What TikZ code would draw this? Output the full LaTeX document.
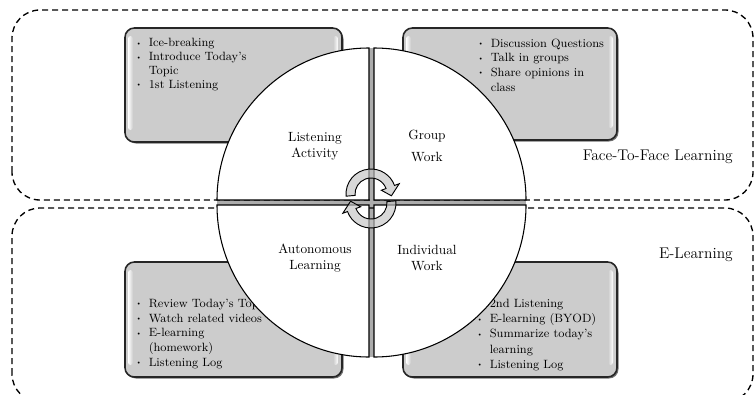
\documentclass[tikz,border=0pt]{standalone}
\usepackage{amsmath,amssymb}
\usepackage{xcolor}
\usepackage{tikz}
\definecolor{boxgray}{RGB}{204,204,204}
\definecolor{arrgray}{RGB}{196,196,196}
\newcommand{\bl}{\raisebox{0.3ex}{\tiny\textbullet}}

\begin{document}
\begin{tikzpicture}[x=0.75pt,y=0.75pt,
  lbl/.style={inner sep=0pt, anchor=east, font=\fontsize{11.6}{13}\selectfont},
  qtx/.style={inner sep=0pt, align=center, font=\fontsize{10}{12}\selectfont},
  btx/.style={inner sep=0pt, anchor=north west}]
\tikzstyle{zone}=[draw, line width=1pt, dash pattern=on 4.5pt off 3pt, rounded corners=21pt]
\tikzstyle{box}=[draw=black!85, line width=1.2pt, fill=boxgray, rounded corners=7pt]
\tikzstyle{qd}=[draw, line width=0.8pt, fill=white]
\tikzstyle{arr}=[draw, line width=0.7pt, fill=arrgray, fill opacity=0.65]
\useasboundingbox (0,0) rectangle (755,394);
% gaps between the quadrants
\fill[gray!65] (369,37) rectangle (374,346);
\fill[gray!65] (217,189) rectangle (526,194);
% dashed zones
\draw[zone] (12,194) rectangle (753,384);
\draw[zone] (12,-8) rectangle (753,186);
% gray boxes with glossy edges
\foreach \xa/\xb/\ya/\yb in {125/342/252/366,403/617/254/366,125/342/17/132,403/617/17/132}{
  \fill[black!55, rounded corners=7pt] (\xa+1.5,\ya-1.5) rectangle (\xb+1.5,\yb-1.5);
  \draw[box] (\xa,\ya) rectangle (\xb,\yb);
  \shade[left color=white, right color=boxgray, rounded corners=2pt] (\xa+3,\ya+12) rectangle (\xa+8,\yb-8);
  \shade[left color=boxgray, right color=white, rounded corners=2pt] (\xb-9,\ya+12) rectangle (\xb-4,\yb-8);
}
\node[btx, font=\fontsize{9}{10.3}\selectfont] (tl) at (135,357) {\begin{tabular}{@{}l@{\hspace{5pt}}l@{}}
\bl & Ice-breaking\\ \bl & Introduce Today's\\ & Topic\\ \bl & 1st Listening\end{tabular}};
\node[btx, font=\fontsize{9}{10.9}\selectfont] (tr) at (477,357) {\begin{tabular}{@{}l@{\hspace{5pt}}l@{}}
\bl & Discussion Questions\\ \bl & Talk in groups\\ \bl & Share opinions in\\ & class\end{tabular}};
\node[btx, font=\fontsize{9}{11}\selectfont] (bl) at (135,97) {\begin{tabular}{@{}l@{\hspace{5pt}}l@{}}
\bl & Review Today's Topic\\ \bl & Watch related videos\\ \bl & E-learning\\ & (homework)\\ \bl & Listening Log\end{tabular}};
\node[btx, font=\fontsize{9}{11.3}\selectfont] (br) at (476,97) {\begin{tabular}{@{}l@{\hspace{5pt}}l@{}}
\bl & 2nd Listening\\ \bl & E-learning (BYOD)\\ \bl & Summarize today's\\ & learning\\ \bl & Listening Log\end{tabular}};
% the four quadrants
\draw[qd] (369,194) -- (217,194) arc[start angle=180, end angle=90, radius=152] -- cycle;
\draw[qd] (374,194) -- (374,346) arc[start angle=90, end angle=0, radius=152] -- cycle;
\draw[qd] (369,189) -- (217,189) arc[start angle=180, end angle=270, radius=152] -- cycle;
\draw[qd] (374,189) -- (374,37) arc[start angle=270, end angle=360, radius=152] -- cycle;
\node[qtx] (la) at (315,248) {Listening\\Activity};
\node[qtx] (gw) at (427,248) {Group\\[5pt]Work};
\node[qtx] (al) at (315,136) {Autonomous\\Learning};
\node[qtx] (iw) at (427,136) {Individual\\Work};
% cycle arrows
\begin{scope}[shift={(371,200)}]
\draw[arr] (185:25) arc[start angle=185, end angle=20, radius=25] -- (20:30) -- (-5:20.5) -- (20:11) -- (20:16) arc[start angle=20, end angle=185, radius=16] -- cycle;
\end{scope}
\begin{scope}[shift={(371,191)}, rotate=180]
\draw[arr] (185:25) arc[start angle=185, end angle=20, radius=25] -- (20:30) -- (-5:20.5) -- (20:11) -- (20:16) arc[start angle=20, end angle=185, radius=16] -- cycle;
\end{scope}
\node[lbl] (f2f) at (733,237) {Face-To-Face Learning};
\node[lbl] (el) at (733,139) {E-Learning};
\end{tikzpicture}
\end{document}
